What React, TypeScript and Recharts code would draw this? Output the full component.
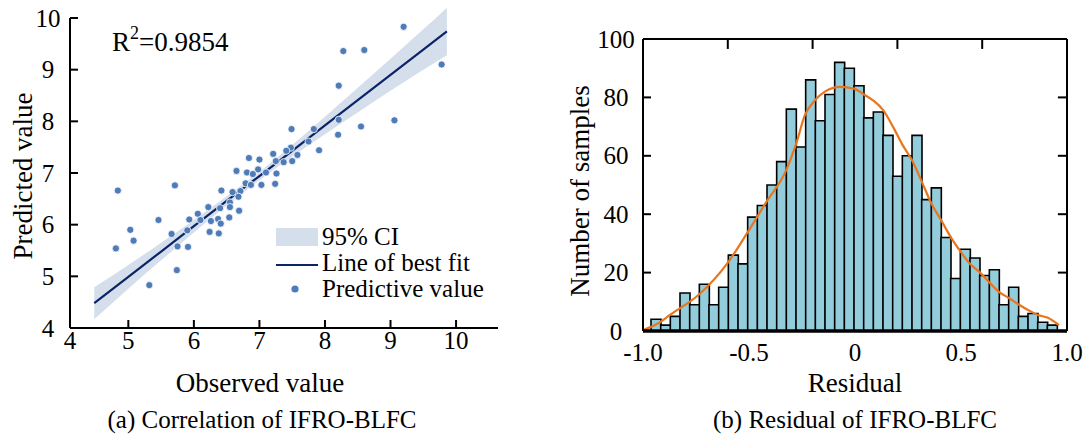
import React from 'react';
import { ComposedChart, BarChart, LineChart, Bar, Line, Area, Scatter, XAxis, YAxis, Legend, ReferenceLine } from 'recharts';

const FONT = '"Liberation Serif", "Times New Roman", Times, serif';

// ---------- (a) Correlation of IFRO-BLFC ----------
const observedValues = [
  9.2, 8.28, 8.6, 9.78, 8.21, 8.21, 7.83, 7.49, 8.55, 9.06,
  8.2, 7.75, 7.48, 7.58, 7.91, 7.5, 6.84, 7.0, 7.21, 7.41,
  7.25, 7.37, 6.65, 6.98, 6.81, 6.9, 7.1, 7.26, 7.03, 7.24,
  6.79, 6.87, 4.84, 5.71, 6.42, 6.59, 6.71, 6.68, 6.55, 6.55,
  6.69, 6.4, 6.22, 6.06, 5.93, 6.1, 6.26, 6.37, 6.41, 6.54,
  5.46, 5.9, 6.24, 6.38, 5.03, 5.08, 4.81, 5.66, 5.75, 5.91,
  5.74, 5.32,
];
const predictedValues = [
  9.83, 9.36, 9.38, 9.1, 8.69, 8.03, 7.85, 7.85, 7.9, 8.02,
  7.74, 7.61, 7.49, 7.35, 7.44, 7.23, 7.29, 7.26, 7.37, 7.43,
  7.23, 7.21, 7.04, 7.07, 7.01, 6.98, 7.01, 6.99, 6.77, 6.79,
  6.8, 6.77, 6.66, 6.76, 6.66, 6.63, 6.65, 6.54, 6.43, 6.34,
  6.27, 6.32, 6.34, 6.21, 6.1, 6.09, 6.07, 6.11, 6.02, 6.14,
  6.09, 5.89, 5.86, 5.83, 5.9, 5.69, 5.54, 5.82, 5.58, 5.57,
  5.12, 4.83,
];
const fitObserved = [4.48, 5.0, 5.5, 6.0, 6.5, 7.0, 7.5, 8.0, 8.5, 9.0, 9.5, 9.86];
const fitPredicted = [4.48, 4.99, 5.48, 5.97, 6.46, 6.94, 7.43, 7.92, 8.41, 8.9, 9.39, 9.74];
const ciLower = [4.17, 4.76, 5.31, 5.85, 6.37, 6.86, 7.32, 7.75, 8.17, 8.59, 9.0, 9.28];
const ciUpper = [4.79, 5.22, 5.65, 6.09, 6.55, 7.02, 7.54, 8.09, 8.65, 9.21, 9.78, 10.2];
const xTicksA = [4.11, 5, 6, 7, 8, 9, 10];
const xTickLabelsA = ['4', '5', '6', '7', '8', '9', '10'];
const yTicksA = [4, 5, 6, 7, 8, 9, 10];

// ---------- (b) Residual of IFRO-BLFC ----------
const binCenters = [
  -0.94, -0.89, -0.85, -0.8, -0.76, -0.71, -0.67, -0.62, -0.57, -0.53,
  -0.48, -0.44, -0.39, -0.35, -0.3, -0.26, -0.21, -0.16, -0.12, -0.07,
  -0.03, 0.02, 0.06, 0.11, 0.16, 0.2, 0.25, 0.29, 0.34, 0.38,
  0.43, 0.47, 0.52, 0.57, 0.61, 0.66, 0.7, 0.75, 0.79, 0.84,
  0.89, 0.93,
];
const binCounts = [
  4, 2, 5, 13, 9, 16, 9, 15, 26, 23,
  39, 43, 50, 58, 76, 63, 86, 72, 81, 92,
  90, 84, 73, 75, 67, 53, 60, 67, 45, 49,
  32, 18, 28, 25, 19, 21, 9, 15, 5, 6,
  3, 2,
];
const curveResidual = [
  -1.0, -0.92, -0.873, -0.736, -0.604, -0.509, -0.42, -0.325, -0.278, -0.236,
  -0.189, -0.142, -0.071, -0.005, 0.042, 0.085, 0.132, 0.179, 0.222, 0.269,
  0.316, 0.358, 0.406, 0.453, 0.5, 0.542, 0.59, 0.637, 0.679, 0.726,
  0.774, 0.816, 0.863, 0.91, 0.962,
];
const curveCount = [
  0.3, 3, 5.5, 12.5, 23, 33.5, 44, 55, 64, 74,
  79, 82, 83.6, 83, 81, 79, 75.7, 70, 64, 58.5,
  51, 44, 38, 32, 27, 23, 20, 16.4, 13.4, 11.3,
  9, 7.2, 5.5, 4.5, 2,
];
const xTicksB = [-1, -0.5, 0, 0.5, 1];
const xTickLabelsB = ['-1.0', '-0.5', '0', '0.5', '1.0'];
const topTicksB = [-0.6, -0.2, 0.2, 0.6];
const yTicksB = [0, 20, 40, 60, 80, 100];
const sideTicksB = [20, 40, 60, 80];
const domainB = { xMin: -1, xMax: 1, yMin: 0, yMax: 100 };
// inward tick lengths of the frame (in data units)
const topTickLen = 3.4;
const rightTickLen = 0.043;

const COLORS = {
  ci: '#D5DFEC',
  fit: '#0B2468',
  dot: '#4F7CB8',
  bar: '#93CDDB',
  curve: '#E8761E',
};

const TICK_FS = 25;
const TITLE_FS = 27;
const LEGEND_FS = 25;
const CAPTION_FS = 25;

const XTickA = (p: any) => {
  const i = xTicksA.indexOf(p.payload.value);
  return (
    <g>
      {i > 0 && <line x1={p.x} x2={p.x} y1={p.y} y2={p.y - 8} stroke="#000" strokeWidth={2} />}
      <text x={p.x} y={p.y + 21} textAnchor="middle" fontSize={TICK_FS} fontFamily={FONT} fill="#000">
        {xTickLabelsA[i]}
      </text>
    </g>
  );
};

const YTickA = (p: any) => {
  const v = p.payload.value;
  return (
    <g>
      {v > 4 && <line x1={p.x} x2={p.x + 8} y1={p.y} y2={p.y} stroke="#000" strokeWidth={2} />}
      <text x={p.x - 22} y={p.y} dy="0.34em" textAnchor="middle" fontSize={TICK_FS} fontFamily={FONT} fill="#000">
        {v}
      </text>
    </g>
  );
};

const XTickB = (p: any) => {
  const i = xTicksB.indexOf(p.payload.value);
  return (
    <text x={p.x} y={p.y + 30} textAnchor="middle" fontSize={TICK_FS} fontFamily={FONT} fill="#000">
      {xTickLabelsB[i]}
    </text>
  );
};

const YTickB = (p: any) => {
  const v = p.payload.value;
  return (
    <g>
      {v > 0 && v < 100 && <line x1={p.x} x2={p.x + 8} y1={p.y} y2={p.y} stroke="#000" strokeWidth={2} />}
      <text x={p.x - 27} y={p.y} dy="0.34em" textAnchor="middle" fontSize={TICK_FS} fontFamily={FONT} fill="#000">
        {v}
      </text>
    </g>
  );
};

const ScatterDot = (p: any) => (
  <circle cx={p.cx} cy={p.cy} r={3.6} fill={COLORS.dot} stroke="#fff" strokeWidth={0.8} />
);

const LegendA = () => (
  <svg width={240} height={80} style={{ overflow: 'visible', display: 'block' }}>
    <rect x={0} y={2} width={42} height={18} fill={COLORS.ci} />
    <text x={46} y={19} fontSize={LEGEND_FS} fontFamily={FONT} fill="#000">95% CI</text>
    <line x1={0} x2={42} y1={39} y2={39} stroke={COLORS.fit} strokeWidth={2.2} />
    <text x={46} y={45} fontSize={LEGEND_FS} fontFamily={FONT} fill="#000">Line of best fit</text>
    <circle cx={19} cy={63} r={3.6} fill={COLORS.dot} />
    <text x={46} y={71} fontSize={LEGEND_FS} fontFamily={FONT} fill="#000">Predictive value</text>
  </svg>
);

export default function App() {
  const scatterData = observedValues.map((x, i) => ({ x, y: predictedValues[i] }));
  const fitData = fitObserved.map((x, i) => ({ x, fit: fitPredicted[i], ci: [ciLower[i], ciUpper[i]] }));
  const histData = binCenters.map((bin, i) => ({ bin, count: binCounts[i] }));
  const curveData = curveResidual.map((r, i) => ({ r, v: curveCount[i] }));

  return (
    <div style={{ position: 'absolute', left: 0, top: 0, width: 1083, height: 443, background: '#fff', fontFamily: FONT }}>
      <div style={{ position: 'absolute', left: 0, top: 0 }}>
        <ComposedChart width={540} height={443} data={fitData} margin={{ top: 18, right: 42, bottom: 85, left: 10 }}>
          <XAxis
            dataKey="x"
            type="number"
            domain={() => [4.11, 10.64]}
            ticks={xTicksA}
            interval={0}
            height={30}
            axisLine={{ stroke: '#000', strokeWidth: 2 }}
            tickLine={false}
            tickSize={0}
            tickMargin={0}
            tick={XTickA}
          />
          <YAxis
            dataKey="y"
            type="number"
            domain={() => [4, 10]}
            ticks={yTicksA}
            interval={0}
            width={60}
            axisLine={{ stroke: '#000', strokeWidth: 2 }}
            tickLine={false}
            tickSize={0}
            tickMargin={0}
            tick={YTickA}
          />
          <Area dataKey="ci" type="monotone" fill={COLORS.ci} fillOpacity={1} stroke="none" isAnimationActive={false} activeDot={false} />
          <Line dataKey="fit" type="linear" stroke={COLORS.fit} strokeWidth={2.2} dot={false} activeDot={false} isAnimationActive={false} />
          <Scatter data={scatterData} fill={COLORS.dot} shape={ScatterDot} isAnimationActive={false} />
          <Legend
            layout="vertical"
            verticalAlign="middle"
            align="center"
            wrapperStyle={{ left: 276, top: 226, width: 240, height: 80 }}
            content={LegendA}
          />
        </ComposedChart>
      </div>

      <div style={{ position: 'absolute', left: 540, top: 0 }}>
        <BarChart width={543} height={443} data={histData} margin={{ top: 39, right: 16, bottom: 112, left: 103 }} barCategoryGap={0} barGap={0}>
          <XAxis dataKey="bin" hide padding={{ left: 8, right: 10 }} />
          <YAxis hide domain={() => [0, 100]} />
          <Bar dataKey="count" fill={COLORS.bar} stroke="#000" strokeWidth={1.6} isAnimationActive={false} />
        </BarChart>
      </div>

      <div style={{ position: 'absolute', left: 540, top: 0 }}>
        <LineChart width={543} height={443} data={curveData} margin={{ top: 39, right: 16, bottom: 82, left: 43 }}>
          <XAxis
            dataKey="r"
            type="number"
            domain={[domainB.xMin, domainB.xMax]}
            allowDataOverflow
            ticks={xTicksB}
            interval={0}
            height={30}
            axisLine={{ stroke: '#000', strokeWidth: 3.5 }}
            tickLine={false}
            tickSize={0}
            tickMargin={0}
            tick={XTickB}
          />
          <YAxis
            type="number"
            domain={[domainB.yMin, domainB.yMax]}
            allowDataOverflow
            ticks={yTicksB}
            interval={0}
            width={60}
            axisLine={{ stroke: '#000', strokeWidth: 2 }}
            tickLine={false}
            tickSize={0}
            tickMargin={0}
            tick={YTickB}
          />
          {/* frame: top and right borders with inward ticks */}
          <ReferenceLine
            segment={[{ x: domainB.xMin, y: domainB.yMax }, { x: domainB.xMax, y: domainB.yMax }]}
            stroke="#000"
            strokeWidth={2}
            ifOverflow="visible"
          />
          <ReferenceLine
            segment={[{ x: domainB.xMax, y: domainB.yMin }, { x: domainB.xMax, y: domainB.yMax }]}
            stroke="#000"
            strokeWidth={2}
            ifOverflow="visible"
          />
          {topTicksB.map((t) => (
            <ReferenceLine
              key={`top-${t}`}
              segment={[{ x: t, y: domainB.yMax }, { x: t, y: domainB.yMax - topTickLen }]}
              stroke="#000"
              strokeWidth={2}
              ifOverflow="visible"
            />
          ))}
          {sideTicksB.map((v) => (
            <ReferenceLine
              key={`right-${v}`}
              segment={[{ x: domainB.xMax, y: v }, { x: domainB.xMax - rightTickLen, y: v }]}
              stroke="#000"
              strokeWidth={2}
              ifOverflow="visible"
            />
          ))}
          <Line dataKey="v" type="monotone" stroke={COLORS.curve} strokeWidth={2.2} dot={false} activeDot={false} isAnimationActive={false} />
        </LineChart>
      </div>

      <svg width={1083} height={443} style={{ position: 'absolute', left: 0, top: 0, pointerEvents: 'none' }}>
        <g fontFamily={FONT} fill="#000">
          <text x={112} y={51} fontSize={TITLE_FS}>
            R<tspan fontSize={18} dy={-12}>2</tspan>
            <tspan dy={12}>=0.9854</tspan>
          </text>
          <text transform="translate(32,176) rotate(-90)" textAnchor="middle" fontSize={TITLE_FS}>Predicted value</text>
          <text x={260} y={392} textAnchor="middle" fontSize={TITLE_FS}>Observed value</text>
          <text transform="translate(589,191) rotate(-90)" textAnchor="middle" fontSize={TITLE_FS}>Number of samples</text>
          <text x={855} y={392} textAnchor="middle" fontSize={TITLE_FS}>Residual</text>
          <text x={262} y={428} textAnchor="middle" fontSize={CAPTION_FS}>(a) Correlation of IFRO-BLFC</text>
          <text x={855} y={428} textAnchor="middle" fontSize={CAPTION_FS}>(b) Residual of IFRO-BLFC</text>
        </g>
      </svg>
    </div>
  );
}
